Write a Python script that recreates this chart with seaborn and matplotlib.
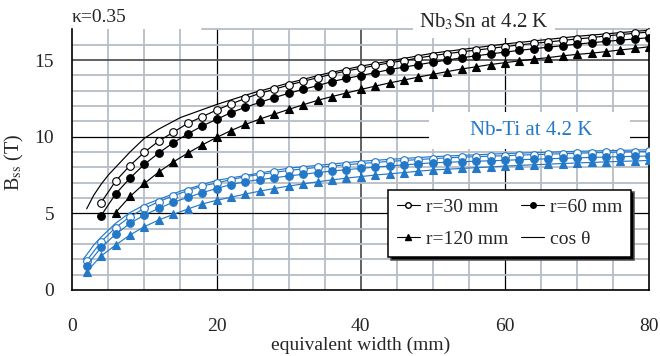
import numpy as np
import pandas as pd
import matplotlib
matplotlib.use("Agg")
import matplotlib.pyplot as plt
from matplotlib.patches import Rectangle
import seaborn as sns

# ---------------- data ----------------
x_sn = list(range(4, 81, 2))          # Nb3Sn, r=30 / r=60
x_sn120 = list(range(6, 81, 2))       # Nb3Sn, r=120
x_ti = list(range(2, 81, 2))          # Nb-Ti, all radii

sn_r30 = [5.70, 7.10, 8.12, 8.99, 9.72, 10.29, 10.87, 11.30, 11.74, 12.13,
          12.50, 12.83, 13.09, 13.37, 13.61, 13.85, 14.08, 14.29, 14.46, 14.65,
          14.82, 14.97, 15.14, 15.29, 15.42, 15.54, 15.65, 15.76, 15.88, 15.99,
          16.09, 16.18, 16.28, 16.38, 16.46, 16.58, 16.66, 16.75, 16.83]
sn_r60 = [4.85, 6.26, 7.30, 8.20, 8.94, 9.61, 10.18, 10.70, 11.13, 11.57,
          11.92, 12.24, 12.55, 12.83, 13.09, 13.33, 13.60, 13.80, 13.99, 14.18,
          14.38, 14.54, 14.70, 14.86, 15.00, 15.15, 15.28, 15.40, 15.52, 15.63,
          15.74, 15.84, 15.94, 16.04, 16.13, 16.22, 16.30, 16.38, 16.46]
sn_r120 = [5.05, 6.10, 6.95, 7.70, 8.35, 8.93, 9.46, 9.95, 10.40, 10.80,
           11.15, 11.47, 11.78, 12.08, 12.37, 12.62, 12.85, 13.08, 13.30, 13.51,
           13.70, 13.89, 14.07, 14.25, 14.42, 14.56, 14.71, 14.83, 14.95, 15.06,
           15.16, 15.28, 15.37, 15.45, 15.55, 15.66, 15.76, 15.87]

ti_r30 = [1.91, 3.15, 4.07, 4.78, 5.33, 5.76, 6.15, 6.48, 6.78, 6.98,
          7.20, 7.39, 7.54, 7.67, 7.80, 7.90, 8.00, 8.09, 8.17, 8.25,
          8.32, 8.39, 8.45, 8.51, 8.57, 8.62, 8.66, 8.70, 8.73, 8.76,
          8.80, 8.83, 8.86, 8.89, 8.92, 8.95, 8.98, 9.00, 9.02, 9.04]
ti_r60 = [1.59, 2.78, 3.63, 4.35, 4.89, 5.33, 5.72, 6.04, 6.35, 6.62,
          6.88, 7.07, 7.20, 7.32, 7.44, 7.55, 7.66, 7.76, 7.85, 7.93,
          8.02, 8.09, 8.16, 8.23, 8.30, 8.33, 8.37, 8.40, 8.43, 8.46,
          8.50, 8.53, 8.56, 8.59, 8.62, 8.65, 8.67, 8.70, 8.72, 8.74]
ti_r120 = [1.20, 2.22, 2.93, 3.59, 4.13, 4.57, 4.93, 5.28, 5.61, 5.85,
           6.05, 6.26, 6.45, 6.62, 6.78, 6.92, 7.06, 7.18, 7.30, 7.40,
           7.50, 7.58, 7.66, 7.75, 7.83, 7.88, 7.93, 7.98, 8.03, 8.08,
           8.13, 8.17, 8.21, 8.25, 8.29, 8.32, 8.36, 8.39, 8.42, 8.45]

# cos(theta) reference curves
x_cos_sn = [2, 3, 4, 5, 6, 8, 10, 12, 15, 20, 25, 30, 35, 40, 50, 60, 70, 80]
sn_cos = [5.30, 6.20, 6.90, 7.50, 8.00, 9.00, 9.90, 10.50, 11.25, 12.10,
          12.85, 13.50, 14.10, 14.60, 15.45, 16.05, 16.55, 16.95]
x_cos_ti = [1.5, 2, 3, 4, 6, 8, 10, 15, 20, 30, 40, 50, 60, 70, 80]
ti_cos = [2.00, 2.30, 2.95, 3.45, 4.35, 5.05, 5.55, 6.45, 7.15, 7.95,
          8.40, 8.70, 8.90, 9.05, 9.15]

BLUE = "#2478c8"
GRID = "#b6bdc6"

sns.set_style("white")
plt.rcParams["font.family"] = ["Liberation Serif", "DejaVu Serif"]
plt.rcParams["mathtext.fontset"] = "stix"

fig = plt.figure(figsize=(6.6, 3.56), dpi=100)
ax = fig.add_axes([0.1095, 0.1854, 0.8743, 0.7320])

# ---------------- grid ----------------
for xv in range(5, 80, 5):
    if xv % 20 == 0:
        c, lw = ("#555555", 1.3) if xv == 40 else ("black", 0.9)
    else:
        c, lw = GRID, 1.3
    ax.axvline(xv, color=c, lw=lw, zorder=0)
for yv in range(1, 17):
    if yv % 5 == 0:
        c, lw = ("#555555", 1.3) if yv == 15 else ("black", 0.9)
    else:
        c, lw = GRID, 1.3
    ax.axhline(yv, color=c, lw=lw, zorder=0)
ax.axhline(17, xmin=0.225, color=GRID, lw=1.3, zorder=0, clip_on=False)

# white patch behind the Nb-Ti label
ax.add_patch(Rectangle((49.4, 9.2), 27.9, 2.4, facecolor="white",
                       edgecolor="none", zorder=1))

# ---------------- series ----------------
def series(x, y, color, marker, face, ms):
    sns.lineplot(x=x, y=y, ax=ax, color=color, marker=marker, markersize=ms,
                 markeredgewidth=0.8, linewidth=0.85,
                 markerfacecolor=face, markeredgecolor=color, zorder=3)

for col, xs, r30, r60, x120, r120, xc, yc in [
        ("black", x_sn, sn_r30, sn_r60, x_sn120, sn_r120, x_cos_sn, sn_cos),
        (BLUE, x_ti, ti_r30, ti_r60, x_ti, ti_r120, x_cos_ti, ti_cos)]:
    sns.lineplot(x=xc, y=yc, ax=ax, color=col, linewidth=0.85, zorder=3)
    series(xs, r30, col, "o", "white", 5.5)
    series(xs, r60, col, "o", col, 5.5)
    series(x120, r120, col, "^", col, 6)

# ---------------- axes ----------------
ax.set_xlim(0, 80)
ax.set_ylim(0, 17)
ax.set_xticks([0, 20, 40, 60, 80])
ax.set_xticks(range(0, 81, 5), minor=True)
ax.set_yticks([0, 5, 10, 15])
ax.set_yticks(range(0, 18), minor=True)
ax.tick_params(which="both", direction="in", color="black", labelsize=14)
ax.tick_params(axis="x", which="major", length=6, width=1, pad=20)
ax.tick_params(axis="x", which="minor", length=4, width=1)
ax.tick_params(axis="y", which="major", length=6, width=1, pad=13)
ax.tick_params(axis="y", which="minor", length=4, width=1)
for s in ["left", "bottom", "right"]:
    ax.spines[s].set_color("black")
    ax.spines[s].set_linewidth(1.2)
ax.spines["top"].set_visible(False)

ax.set_xlabel("equivalent width (mm)", fontsize=14)
ax.xaxis.set_label_coords(0.5, -0.178)
ax.set_ylabel("B$_{\\mathrm{ss}}$ (T)", fontsize=14.5)
ax.yaxis.set_label_coords(-0.08, 0.49)

# ---------------- texts ----------------
fig.text(72 / 660, 1 - 17 / 356, "κ=0.35", fontsize=14, ha="left", va="center")
fig.text(484 / 660, 1 - 22 / 356, "Nb$_3$Sn at 4.2 K", fontsize=15,
         ha="center", va="center",
         bbox=dict(facecolor="white", edgecolor="none", pad=4), zorder=5)
ax.text(63.6, 10.4, "Nb-Ti at 4.2 K", fontsize=15, color=BLUE,
        ha="center", va="center", zorder=4)

# ---------------- legend ----------------
h30 = plt.Line2D([], [], color="black", marker="o", markerfacecolor="white", markersize=4, lw=0.8)
h60 = plt.Line2D([], [], color="black", marker="o", markersize=4, lw=0.8)
h120 = plt.Line2D([], [], color="black", marker="^", markersize=5, lw=0.8)
hcos = plt.Line2D([], [], color="black", lw=0.8)
leg = ax.legend([h30, h120, h60, hcos], ["r=30 mm", "r=120 mm", "r=60 mm", "cos θ"],
                ncol=2, fontsize=14,
                loc="lower left", bbox_to_anchor=(0.547, 0.127), borderaxespad=0,
                frameon=True, fancybox=False, edgecolor="black",
                handlelength=1.2, handletextpad=0.3, columnspacing=0.65,
                borderpad=0.45, labelspacing=0.75,
                shadow={"facecolor": "black", "alpha": 1})
leg.get_frame().set_linewidth(1.1)
leg.set_zorder(6)

fig.savefig("out.png", dpi=100)
